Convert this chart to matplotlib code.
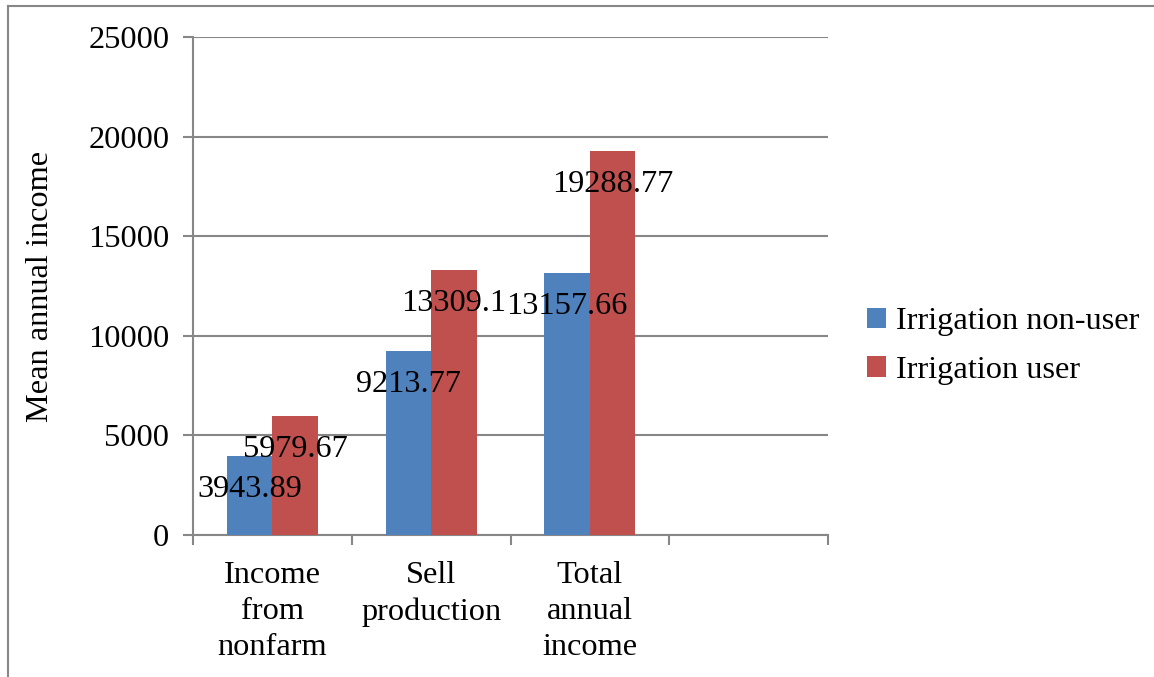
import matplotlib
matplotlib.use("Agg")
import matplotlib.pyplot as plt
from matplotlib.lines import Line2D
import numpy as np

categories = ["Income\nfrom\nnonfarm", "Sell\nproduction", "Total\nannual\nincome", ""]
non_user = [3943.89, 9213.77, 13157.66]
user = [5979.67, 13309.1, 19288.77]
non_user_labels = ["3943.89", "9213.77", "13157.66"]
user_labels = ["5979.67", "13309.1", "19288.77"]
series_names = ["Irrigation non-user", "Irrigation user"]
yticks = [0, 5000, 10000, 15000, 20000, 25000]

plt.rcParams['font.family'] = ['Liberation Serif', 'DejaVu Serif']
FS = 23.3
W, H = 1154, 677
fig = plt.figure(figsize=(W/100, H/100), dpi=100)
ax = fig.add_axes([193/W, 1-535/H, (828-193)/W, (535-37)/H])

grey = '#878787'
blue = '#4F81BD'
red = '#C0504D'
bw = 0.286
x = np.arange(len(non_user))
b1 = ax.bar(x - bw/2, non_user, bw, color=blue, label=series_names[0], zorder=3)
b2 = ax.bar(x + bw/2, user, bw, color=red, label=series_names[1], zorder=3)

for bars, labs in ((b1, non_user_labels), (b2, user_labels)):
    for rect, lab in zip(bars, labs):
        ax.annotate(lab, (rect.get_x() + rect.get_width()/2, rect.get_height()),
                    xytext=(0, -24), textcoords='offset points',
                    ha='center', va='center', fontsize=FS, zorder=5)

ax.set_xlim(-0.5, 3.5)
ax.set_ylim(0, 25000)
ax.set_yticks(yticks)
ax.set_yticklabels([str(v) for v in yticks], fontsize=FS)
ax.yaxis.grid(True, color=grey, linewidth=1.5, zorder=0)
ax.set_axisbelow(True)

ax.set_xticks(np.arange(4))
ax.set_xticklabels(categories, fontsize=FS, linespacing=1.3)
ax.set_xticks(np.arange(-0.5, 4.0, 1.0), minor=True)
ax.tick_params(axis='x', which='major', length=0, pad=19)
ax.tick_params(axis='x', which='minor', length=7, width=1.5, color=grey, direction='out')
ax.tick_params(axis='y', length=7, width=1.5, color=grey, direction='out', pad=10)

for s in ['top', 'right']:
    ax.spines[s].set_visible(False)
for s in ['left', 'bottom']:
    ax.spines[s].set_color(grey)
    ax.spines[s].set_linewidth(1.5)

ax.set_ylabel("Mean annual income", fontsize=FS, labelpad=24)

leg = fig.legend(handles=[b1, b2], labels=series_names, loc='center left',
                 bbox_to_anchor=(867/W, 1-346/H), frameon=False, fontsize=FS,
                 handlelength=0.6, handleheight=0.6, handletextpad=0.3,
                 labelspacing=0.6, borderaxespad=0, borderpad=0)

fig.add_artist(Line2D([8/W, 1], [1-6/H, 1-6/H], color=grey, linewidth=1.5, transform=fig.transFigure))
fig.add_artist(Line2D([8/W, 8/W], [0, 1-6/H], color=grey, linewidth=1.5, transform=fig.transFigure))

fig.savefig("out.png", dpi=100)
